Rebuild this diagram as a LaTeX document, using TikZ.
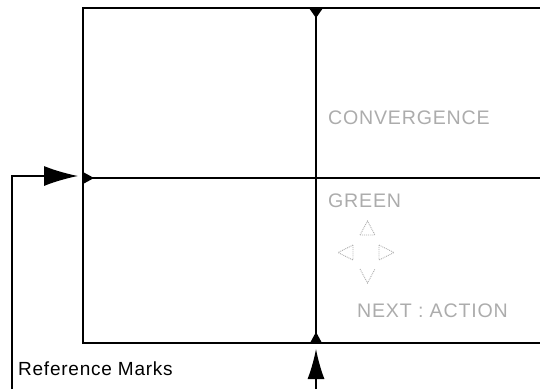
\documentclass[tikz,border=0pt]{standalone}
\usepackage{fontspec}
\setmainfont{Liberation Sans}
\newfontfamily\wide[LetterSpace=4]{Liberation Sans}
\usetikzlibrary{shapes.geometric, arrows.meta, positioning}
\tikzstyle{frame} = [line width=1.8pt]
\tikzstyle{greytext} = [text=gray!65, font=\wide\fontsize{19.6}{21}\selectfont, anchor=base west, inner sep=0pt]
\tikzstyle{cursor} = [draw=gray!65, densely dotted, line width=0.9pt]
\tikzstyle{arrow} = [line width=1.3pt, -{Latex[length=34pt,width=20pt]}]
\tikzstyle{uparrow} = [line width=1.3pt, -{Latex[length=30pt,width=17pt]}]

\begin{document}
\begin{tikzpicture}[x=1pt, y=-1pt]
\useasboundingbox (0,0) rectangle (540,389);

% Frame
\coordinate (tl) at (83,8);
\coordinate (bl) at (83,343);
\coordinate (topmark) at (316,8);
\coordinate (botmark) at (316,343);
\coordinate (leftmark) at (83,178);
\draw [frame] (540,8) -- (tl) -- (bl) -- (540,343);
\draw [frame] (topmark) -- (botmark);
\draw [frame] (leftmark) -- (540,178);

% Marks
\fill (topmark) ++(-7,0) -- ++(14,0) -- ++(-7,10) -- cycle;
\fill (botmark) ++(-6,0) -- ++(12,0) -- ++(-6,-11) -- cycle;
\fill (leftmark) ++(0,-6) -- ++(0,12) -- ++(11,-6) -- cycle;

% Nodes
\node (conv) [greytext] at (328,124) {CONVERGENCE};
\node (green) [greytext] at (328,207) {GREEN};
\node (next) [greytext] at (357,317) {NEXT : ACTION};
\node (ref) [anchor=base west, inner sep=0pt, font=\wide\fontsize{19}{20}\selectfont] at (18,375) {Reference Marks};
\coordinate (refstart) at (12,389);
\coordinate (refend) at (78,176);
\coordinate (upstart) at (316,389);
\coordinate (upend) at (316,349);

% Cursor
\draw [cursor] (360,235) -- (367.5,221) -- (375,235) -- cycle;
\draw [cursor] (353,245) -- (338,252.5) -- (353,260) -- cycle;
\draw [cursor] (379,245) -- (394,252.5) -- (379,260) -- cycle;
\draw [cursor] (360,269) -- (367.5,283) -- (375,269);

% Arrows
\draw [arrow] (refstart) |- (refend);
\draw [uparrow] (upstart) -- (upend);

\end{tikzpicture}
\end{document}
